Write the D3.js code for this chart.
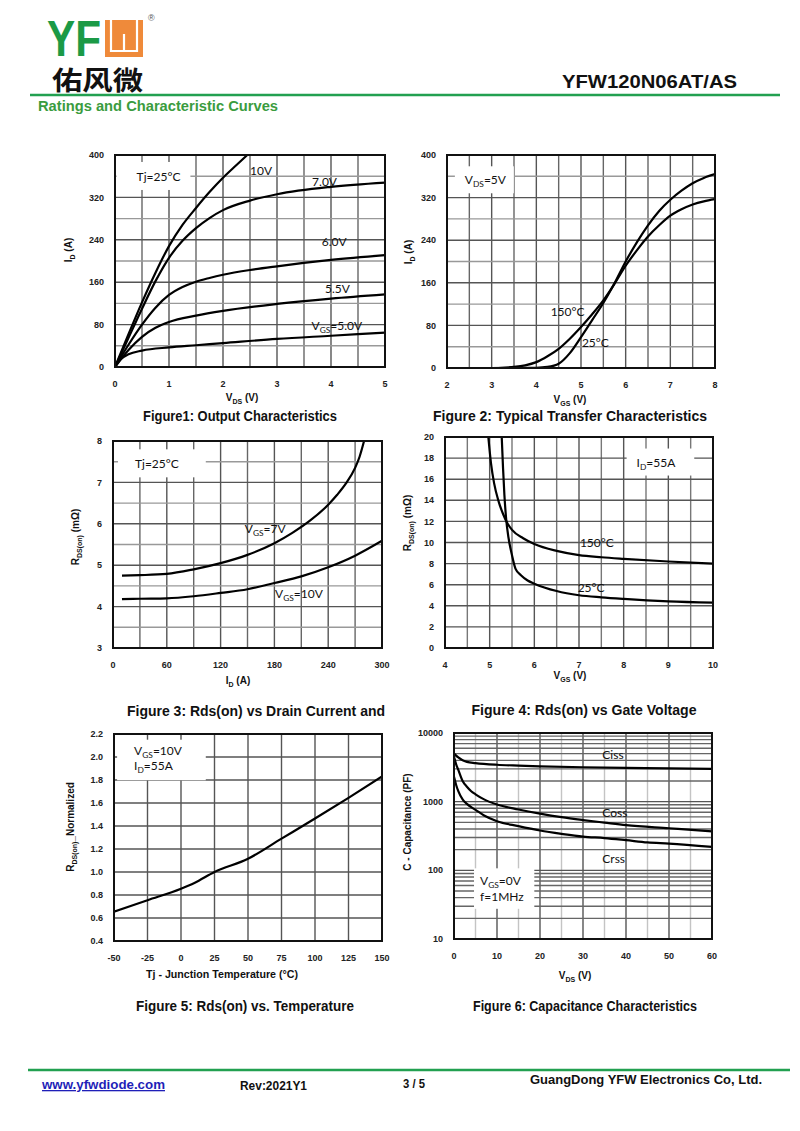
<!DOCTYPE html>
<html lang="en">
<head>
<meta charset="UTF-8">
<title>YFW120N06AT/AS - Ratings and Characteristic Curves</title>
<script src="https://d3js.org/d3.v7.min.js"></script>
<style>
    body { margin: 0; background: #fff; }
    svg { display: block; font-family: "Liberation Sans", Arial, sans-serif; }
    .tick { font-size: 9px; font-weight: bold; fill: #222; }
    .ann { font-family: Lato, "Open Sans", sans-serif; font-size: 12px; fill: #111; }
    .atitle { font-size: 10px; font-weight: bold; fill: #111; }
    .cap { font-size: 14px; font-weight: bold; fill: #111; }
</style>
</head>
<body>
<div id="page"></div>
<script>
// ---- Figure 1: output characteristics, ID (A) vs VDS (V) ----
const f1XTicks = [0, 1, 2, 3, 4, 5];
const f1YTicks = [0, 80, 160, 240, 320, 400];
const out10V = [[0,0],[0.25,62],[0.5,122],[0.75,178],[1,228],[1.25,268],[1.5,300],[1.75,330],[2,357],[2.25,381],[2.45,400]];
const out7V  = [[0,0],[0.25,55],[0.5,110],[0.75,162],[1,206],[1.25,238],[1.5,262],[1.75,281],[2,296],[2.5,314],[3,326],[4,340],[5,348]];
const out6V  = [[0,0],[0.25,42],[0.5,80],[0.75,112],[1,136],[1.25,151],[1.5,161],[1.75,168],[2,174],[2.5,183],[3,190],[4,202],[5,211]];
const out55V = [[0,0],[0.25,32],[0.5,57],[0.75,74],[1,85],[1.5,97],[2,106],[3,119],[4,129],[5,137]];
const out5V  = [[0,0],[0.1,14],[0.25,24],[0.5,31],[1,37],[1.5,41],[2,45],[3,53],[4,59],[5,65]];

// ---- Figure 2: transfer characteristics, ID (A) vs VGS (V) ----
const f2XTicks = [2, 3, 4, 5, 6, 7, 8];
const f2YTicks = [0, 80, 160, 240, 320, 400];
const tr25  = [[3,0],[4,0.5],[4.25,2],[4.5,8],[4.75,28],[5,58],[5.25,90],[5.5,122],[5.75,159],[6,200],[6.25,236],[6.5,268],[6.75,295],[7,316],[7.25,333],[7.5,347],[7.75,357],[8,364]];
const tr150 = [[3,0],[3.25,0.5],[3.5,2],[3.75,5],[4,11],[4.25,22],[4.5,36],[4.75,55],[5,77],[5.25,101],[5.5,127],[5.75,158],[6,192],[6.25,221],[6.5,247],[6.75,268],[7,286],[7.25,298],[7.5,307],[7.75,313],[8,317]];

// ---- Figure 3: RDS(on) (mOhm) vs ID (A) ----
const f3XTicks = [0, 60, 120, 180, 240, 300];
const f3YTicks = [3, 4, 5, 6, 7, 8];
const rds7V  = [[10,4.75],[30,4.76],[60,4.79],[90,4.9],[120,5.05],[150,5.25],[180,5.53],[200,5.78],[220,6.08],[240,6.46],[250,6.7],[260,6.98],[270,7.35],[275,7.62],[280,8.0]];
const rds10V = [[10,4.18],[30,4.19],[60,4.2],[90,4.25],[120,4.33],[150,4.42],[180,4.57],[210,4.73],[240,4.95],[270,5.23],[300,5.59]];

// ---- Figure 4: RDS(on) (mOhm) vs VGS (V) ----
const f4XTicks = [4, 5, 6, 7, 8, 9, 10];
const f4YTicks = [0, 2, 4, 6, 8, 10, 12, 14, 16, 18, 20];
const vg150 = [[4.97,20],[5.03,17.5],[5.1,15.6],[5.2,13.9],[5.3,12.7],[5.4,11.8],[5.5,11.2],[5.75,10.4],[6,9.85],[6.5,9.2],[7,8.8],[7.5,8.6],[8,8.45],[9,8.2],[10,8.0]];
const vg25  = [[5.27,20],[5.3,17],[5.33,14.5],[5.37,12.2],[5.42,10.5],[5.5,8.8],[5.58,7.5],[5.7,6.9],[5.85,6.4],[6,6.1],[6.5,5.4],[7,5.0],[7.5,4.8],[8,4.65],[9,4.42],[10,4.3]];

// ---- Figure 5: normalized RDS(on) vs Tj (°C) ----
const f5XTicks = [-50, -25, 0, 25, 50, 75, 100, 125, 150];
const f5YTicks = [0.4, 0.6, 0.8, 1.0, 1.2, 1.4, 1.6, 1.8, 2.0, 2.2];
const f5YLabels = ['0.4', '0.6', '0.8', '1.0', '1.2', '1.4', '1.6', '1.8', '2.0', '2.2'];
const normRds = [[-50,0.655],[-25,0.755],[0,0.855],[10,0.905],[25,1.0],[50,1.115],[75,1.29],[100,1.465],[125,1.645],[150,1.83]];

// ---- Figure 6: capacitance (pF) vs VDS (V) ----
const f6XTicks = [0, 10, 20, 30, 40, 50, 60];
const f6YTicks = [10, 100, 1000, 10000];
const ciss = [[0,5000],[1,4400],[2,4000],[3,3800],[5,3650],[10,3450],[15,3350],[20,3270],[30,3170],[40,3110],[50,3060],[60,3010]];
const coss = [[0,4500],[0.5,3500],[1,2900],[2,2000],[3,1650],[4,1420],[5,1280],[7,1080],[10,910],[15,770],[20,670],[25,595],[30,540],[35,495],[40,455],[50,410],[60,370]];
const crss = [[0,2300],[0.5,1750],[1,1420],[2,1080],[3,930],[4,830],[5,760],[7,630],[10,520],[15,440],[20,380],[25,340],[30,310],[35,295],[40,275],[45,255],[50,245],[60,220]];

const svg = d3.select('#page').append('svg')
    .attr('width', 800)
    .attr('height', 1131);

// write "V_{GS}=5V" style strings with subscripts
function rich(sel, str) {
    const parts = str.split(/(_\{[^}]*\})/).filter(s => s.length);
    let sub = false;
    parts.forEach(p => {
        if (p.startsWith('_{')) {
            sel.append('tspan').attr('font-size', '70%').attr('dy', 3).text(p.slice(2, -1));
            sub = true;
        } else {
            sel.append('tspan').attr('dy', sub ? -3 : 0).text(p);
            sub = false;
        }
    });
    return sel;
}

function steps(d0, d1, step) {
    const n = Math.round((d1 - d0) / step);
    return d3.range(n + 1).map(i => d0 + i * step);
}

let clipId = 0;

function drawPanel(p) {
    const x = d3.scaleLinear().domain(p.xDomain).range([p.left, p.right]);
    const y = (p.log ? d3.scaleLog() : d3.scaleLinear()).domain(p.yDomain).range([p.bottom, p.top]);

    const gGrid = svg.append('g');
    const gBox = svg.append('g');
    const gCurve = svg.append('g');
    const gFrame = svg.append('g');
    const gText = svg.append('g');

    const isMajor = (v, ticks) => ticks.some(t => Math.abs(t - v) < 1e-9);

    // vertical grid lines
    gGrid.selectAll('line.v')
        .data(p.xGrid)
        .enter()
        .append('line')
        .attr('x1', d => x(d)).attr('x2', d => x(d))
        .attr('y1', p.top).attr('y2', p.bottom)
        .attr('stroke', d => isMajor(d, p.xTicks) ? '#555' : p.xMinor)
        .attr('stroke-width', 1.4);

    // horizontal grid lines
    gGrid.selectAll('line.h')
        .data(p.yGrid)
        .enter()
        .append('line')
        .attr('x1', p.left).attr('x2', p.right)
        .attr('y1', d => y(d)).attr('y2', d => y(d))
        .attr('stroke', d => isMajor(d, p.yTicks) ? '#555' : p.yMinor)
        .attr('stroke-width', 1.4);

    // curves
    const cid = 'clip' + (clipId++);
    svg.append('clipPath').attr('id', cid)
        .append('rect')
        .attr('x', p.left).attr('y', p.top)
        .attr('width', p.right - p.left).attr('height', p.bottom - p.top);

    const line = d3.line()
        .x(d => x(d[0]))
        .y(d => y(d[1]))
        .curve(d3.curveMonotoneX);

    gCurve.attr('clip-path', 'url(#' + cid + ')')
        .selectAll('path')
        .data(p.series)
        .enter()
        .append('path')
        .attr('d', d => line(d))
        .attr('fill', 'none')
        .attr('stroke', '#000')
        .attr('stroke-width', 2.2)
        .attr('stroke-linejoin', 'round');

    // frame
    gFrame.append('rect')
        .attr('x', p.left).attr('y', p.top)
        .attr('width', p.right - p.left).attr('height', p.bottom - p.top)
        .attr('fill', 'none')
        .attr('stroke', '#111')
        .attr('stroke-width', 2);

    // tick labels
    gText.selectAll('text.yt')
        .data(p.yTicks)
        .enter()
        .append('text')
        .attr('class', 'tick')
        .attr('x', p.left - 11)
        .attr('y', d => y(d))
        .attr('dy', '0.35em')
        .attr('text-anchor', 'end')
        .text((d, i) => p.yLabels ? p.yLabels[i] : d);

    gText.selectAll('text.xt')
        .data(p.xTicks)
        .enter()
        .append('text')
        .attr('class', 'tick')
        .attr('x', d => x(d))
        .attr('y', p.bottom + 20)
        .attr('text-anchor', 'middle')
        .text(d => d);

    // axis titles
    const xt = gText.append('text')
        .attr('class', 'atitle')
        .attr('x', p.xTitle[1]).attr('y', p.xTitle[2])
        .attr('text-anchor', 'middle');
    rich(xt, p.xTitle[0]);
    if (p.xTitle[3]) xt.attr('textLength', p.xTitle[3]).attr('lengthAdjust', 'spacingAndGlyphs');

    const yt = gText.append('text')
        .attr('class', 'atitle')
        .attr('transform', 'translate(' + p.yTitle[1] + ',' + p.yTitle[2] + ') rotate(-90)')
        .attr('text-anchor', 'middle');
    rich(yt, p.yTitle[0]);

    // caption
    gText.append('text')
        .attr('class', 'cap')
        .attr('x', p.caption[1]).attr('y', p.caption[2])
        .attr('text-anchor', 'middle')
        .attr('textLength', p.caption[3])
        .attr('lengthAdjust', 'spacingAndGlyphs')
        .text(p.caption[0]);

    // annotations, some sitting on a white box that hides the grid
    p.notes.forEach(n => {
        const texts = n.lines.map(l => rich(gText.append('text')
            .attr('class', 'ann')
            .attr('x', x(l[1]))
            .attr('y', y(l[2])), l[0]));
        if (n.box) {
            let x0 = Infinity, y0 = Infinity, x1 = -Infinity, y1 = -Infinity;
            texts.forEach(t => {
                const b = t.node().getBBox();
                x0 = Math.min(x0, b.x); y0 = Math.min(y0, b.y);
                x1 = Math.max(x1, b.x + b.width); y1 = Math.max(y1, b.y + b.height);
            });
            gBox.append('rect')
                .attr('x', x0 - n.box[0])
                .attr('y', y0 - n.box[2])
                .attr('width', x1 - x0 + n.box[0] + n.box[1])
                .attr('height', y1 - y0 + n.box[2] + n.box[3])
                .attr('fill', '#fff');
        }
    });
}

// ---------- header ----------
const green = '#22a050';
svg.append('text')
    .attr('x', 47).attr('y', 56)
    .attr('font-size', 50).attr('font-weight', 'bold')
    .attr('fill', '#1b9a46')
    .attr('textLength', 54).attr('lengthAdjust', 'spacingAndGlyphs')
    .text('YF');
svg.append('rect')
    .attr('x', 105).attr('y', 20).attr('width', 38).attr('height', 37)
    .attr('fill', '#ef8a3a');
svg.append('path')
    .attr('d', 'M111,20 V51 H137 V20 M124,34 V51')
    .attr('fill', 'none').attr('stroke', '#fff').attr('stroke-width', 2.2);
svg.append('text')
    .attr('x', 148).attr('y', 21)
    .attr('font-size', 9).attr('fill', '#555')
    .text('®');
svg.append('text')
    .attr('x', 52).attr('y', 89.5)
    .attr('font-family', '"Noto Sans CJK SC", sans-serif')
    .attr('font-size', 26).attr('font-weight', 'bold')
    .attr('fill', '#111')
    .attr('textLength', 91).attr('lengthAdjust', 'spacingAndGlyphs')
    .text('佑风微');
svg.append('text')
    .attr('x', 737).attr('y', 88)
    .attr('text-anchor', 'end')
    .attr('font-size', 18).attr('font-weight', 'bold').attr('fill', '#111')
    .attr('textLength', 175).attr('lengthAdjust', 'spacingAndGlyphs')
    .text('YFW120N06AT/AS');
svg.append('line')
    .attr('x1', 30).attr('x2', 780).attr('y1', 95).attr('y2', 95)
    .attr('stroke', green).attr('stroke-width', 2.5);
svg.append('text')
    .attr('x', 38).attr('y', 111)
    .attr('font-size', 14).attr('font-weight', 'bold').attr('fill', '#3a9c3e')
    .attr('textLength', 240).attr('lengthAdjust', 'spacingAndGlyphs')
    .text('Ratings and Characteristic Curves');

// ---------- panels ----------
drawPanel({
    left: 115, right: 385, top: 155, bottom: 367,
    xDomain: [0, 5], yDomain: [0, 400],
    xTicks: f1XTicks, yTicks: f1YTicks,
    xGrid: steps(0, 5, 0.5), yGrid: steps(0, 400, 40),
    xMinor: '#666', yMinor: '#999',
    series: [out10V, out7V, out6V, out55V, out5V],
    xTitle: ['V_{DS} (V)', 242, 401], yTitle: ['I_{D} (A)', 72, 250],
    caption: ['Figure1: Output Characteristics', 240, 421, 194],
    notes: [
        { lines: [['Tj=25°C', 0.40, 351]], box: [20, 10, 7, 6] },
        { lines: [['10V', 2.5, 363]] },
        { lines: [['7.0V', 3.65, 341]] },
        { lines: [['6.0V', 3.83, 228]] },
        { lines: [['5.5V', 3.89, 139]] },
        { lines: [['V_{GS}=5.0V', 3.64, 69]] }
    ]
});

drawPanel({
    left: 447, right: 715, top: 155, bottom: 368,
    xDomain: [2, 8], yDomain: [0, 400],
    xTicks: f2XTicks, yTicks: f2YTicks,
    xGrid: steps(2, 8, 0.5), yGrid: steps(0, 400, 40),
    xMinor: '#666', yMinor: '#999',
    series: [tr25, tr150],
    xTitle: ['V_{GS} (V)', 570, 403], yTitle: ['I_{D} (A)', 412, 252],
    caption: ['Figure 2: Typical Transfer Characteristics', 570, 421, 274],
    notes: [
        { lines: [['V_{DS}=5V', 2.40, 345]], box: [10, 7, 6, 4] },
        { lines: [['150°C', 4.32, 97]] },
        { lines: [['25°C', 5.02, 40]] }
    ]
});

drawPanel({
    left: 113, right: 382, top: 441, bottom: 648,
    xDomain: [0, 300], yDomain: [3, 8],
    xTicks: f3XTicks, yTicks: f3YTicks,
    xGrid: steps(0, 300, 30), yGrid: steps(3, 8, 0.5),
    xMinor: '#666', yMinor: '#999',
    series: [rds7V, rds10V],
    xTitle: ['I_{D} (A)', 238, 684], yTitle: ['R_{DS(on)} (mΩ)', 79, 537],
    caption: ['Figure 3: Rds(on) vs Drain Current and', 256, 716, 258],
    notes: [
        { lines: [['Tj=25°C', 24.5, 7.34]], box: [17, 27, 7, 6] },
        { lines: [['V_{GS}=7V', 147, 5.77]] },
        { lines: [['V_{GS}=10V', 180.7, 4.2]] }
    ]
});

drawPanel({
    left: 445, right: 713, top: 437, bottom: 648,
    xDomain: [4, 10], yDomain: [0, 20],
    xTicks: f4XTicks, yTicks: f4YTicks,
    xGrid: steps(4, 10, 0.5), yGrid: steps(0, 20, 2),
    xMinor: '#777', yMinor: '#999',
    series: [vg150, vg25],
    xTitle: ['V_{GS} (V)', 570, 679], yTitle: ['R_{DS(on)} (mΩ)', 411, 523],
    caption: ['Figure 4: Rds(on) vs Gate Voltage', 584, 715, 225],
    notes: [
        { lines: [['I_{D}=55A', 8.29, 17.2]], box: [10, 18, 6, 4] },
        { lines: [['150°C', 7.02, 9.54]] },
        { lines: [['25°C', 6.97, 5.28]] }
    ]
});

drawPanel({
    left: 114, right: 382, top: 734, bottom: 941,
    xDomain: [-50, 150], yDomain: [0.4, 2.2],
    xTicks: f5XTicks, yTicks: f5YTicks, yLabels: f5YLabels,
    xGrid: steps(-50, 150, 25), yGrid: steps(0.4, 2.2, 0.2),
    xMinor: '#555', yMinor: '#555',
    series: [normRds],
    xTitle: ['Tj - Junction Temperature (°C)', 222, 978, 152], yTitle: ['R_{DS(on)}_Normalized', 74, 827],
    caption: ['Figure 5: Rds(on) vs. Temperature', 245, 1011, 218],
    notes: [
        { lines: [['V_{GS}=10V', -35, 2.02], ['I_{D}=55A', -35, 1.885]], box: [17, 23, 3, 5] }
    ]
});

const f6YGrid = [];
[10, 100, 1000].forEach(dec => d3.range(1, 10).forEach(k => f6YGrid.push(dec * k)));
f6YGrid.push(10000);

drawPanel({
    left: 454, right: 712, top: 733, bottom: 939,
    xDomain: [0, 60], yDomain: [10, 10000], log: true,
    xTicks: f6XTicks, yTicks: f6YTicks,
    xGrid: steps(0, 60, 5), yGrid: f6YGrid,
    xMinor: '#c4c4c4', yMinor: '#666',
    series: [ciss, coss, crss],
    xTitle: ['V_{DS} (V)', 575, 979], yTitle: ['C - Capacitance (PF)', 411, 822],
    caption: ['Figure 6: Capacitance Characteristics', 585, 1011, 224],
    notes: [
        { lines: [['Ciss', 34.5, 4170]] },
        { lines: [['Coss', 34.5, 603]] },
        { lines: [['Crss', 34.5, 126]] },
        { lines: [['V_{GS}=0V', 6.05, 60.5], ['f=1MHz', 6.05, 36]], box: [6, 10, 5, 5] }
    ]
});

// ---------- footer ----------
svg.append('line')
    .attr('x1', 28).attr('x2', 790).attr('y1', 1070).attr('y2', 1070)
    .attr('stroke', green).attr('stroke-width', 2.5);
svg.append('text')
    .attr('x', 42).attr('y', 1089)
    .attr('font-size', 13).attr('font-weight', 'bold').attr('fill', '#1f1fb8')
    .attr('text-decoration', 'underline')
    .attr('textLength', 123).attr('lengthAdjust', 'spacingAndGlyphs')
    .text('www.yfwdiode.com');
svg.append('text')
    .attr('x', 240).attr('y', 1090)
    .attr('font-size', 12).attr('font-weight', 'bold').attr('fill', '#111')
    .attr('textLength', 67).attr('lengthAdjust', 'spacingAndGlyphs')
    .text('Rev:2021Y1');
svg.append('text')
    .attr('x', 403).attr('y', 1088)
    .attr('font-size', 12).attr('font-weight', 'bold').attr('fill', '#111')
    .attr('textLength', 22).attr('lengthAdjust', 'spacingAndGlyphs')
    .text('3 / 5');
svg.append('text')
    .attr('x', 530).attr('y', 1084)
    .attr('font-size', 13.5).attr('font-weight', 'bold').attr('fill', '#111')
    .attr('textLength', 232).attr('lengthAdjust', 'spacingAndGlyphs')
    .text('GuangDong YFW Electronics Co, Ltd.');
</script>
</body>
</html>
